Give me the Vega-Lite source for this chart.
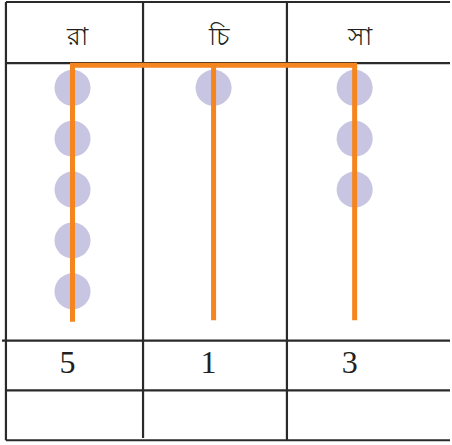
{
  "$schema": "https://vega.github.io/schema/vega-lite/v6.json",
  "width": 452,
  "height": 445,
  "autosize": {"type": "fit", "contains": "padding"},
  "padding": 0,
  "background": "white",
  "view": {"stroke": null},
  "config": {"axis": {"disable": true}},
  "datasets": {
    "tally": [
      {"name": "রা", "col": 1, "slot": 1},
      {"name": "রা", "col": 1, "slot": 2},
      {"name": "রা", "col": 1, "slot": 3},
      {"name": "রা", "col": 1, "slot": 4},
      {"name": "রা", "col": 1, "slot": 5},
      {"name": "চি", "col": 2, "slot": 1},
      {"name": "সা", "col": 3, "slot": 1},
      {"name": "সা", "col": 3, "slot": 2},
      {"name": "সা", "col": 3, "slot": 3}
    ],
    "totals": [
      {"name": "রা", "col": 1, "count": 5},
      {"name": "চি", "col": 2, "count": 1},
      {"name": "সা", "col": 3, "count": 3}
    ],
    "hlines": [
      {"row": -0.686, "from": 0.528, "to": 3.676},
      {"row": 0.516, "from": 0.528, "to": 3.676},
      {"row": 5.967, "from": 0.5, "to": 3.676},
      {"row": 6.947, "from": 0.528, "to": 3.676},
      {"row": 7.927, "from": 0.528, "to": 3.676}
    ],
    "vlines": [
      {"col": 0.528, "from": -0.686, "to": 7.927},
      {"col": 1.5, "from": -0.686, "to": 7.88},
      {"col": 2.52, "from": -0.686, "to": 7.927}
    ],
    "treeh": [
      {"from": 1, "to": 3, "row": 0.559}
    ],
    "treev": [
      {"col": 1, "from": 0.559, "to": 5.6},
      {"col": 2, "from": 0.559, "to": 5.57},
      {"col": 3, "from": 0.559, "to": 5.57}
    ]
  },
  "layer": [
    {
      "data": {"name": "hlines"},
      "mark": {"type": "rule", "color": "#2a2a2a", "strokeWidth": 2.2},
      "encoding": {
        "x": {"field": "from", "type": "quantitative", "scale": {"domain": [0.493, 3.676], "zero": false, "nice": false}},
        "x2": {"field": "to"},
        "y": {"field": "row", "type": "quantitative", "scale": {"domain": [-0.706, 8.02], "reverse": true, "zero": false, "nice": false}}
      }
    },
    {
      "data": {"name": "vlines"},
      "mark": {"type": "rule", "color": "#2a2a2a", "strokeWidth": 2.2},
      "encoding": {
        "x": {"field": "col", "type": "quantitative"},
        "y": {"field": "from", "type": "quantitative"},
        "y2": {"field": "to"}
      }
    },
    {
      "data": {"name": "tally"},
      "mark": {"type": "circle", "color": "#c7c5e1", "opacity": 1, "size": 1300},
      "encoding": {
        "x": {"field": "col", "type": "quantitative"},
        "y": {"field": "slot", "type": "quantitative"}
      }
    },
    {
      "data": {"name": "treeh"},
      "mark": {"type": "rule", "color": "#f5851f", "strokeWidth": 5, "strokeCap": "square"},
      "encoding": {
        "x": {"field": "from", "type": "quantitative"},
        "x2": {"field": "to"},
        "y": {"field": "row", "type": "quantitative"}
      }
    },
    {
      "data": {"name": "treev"},
      "mark": {"type": "rule", "color": "#f5851f", "strokeWidth": 5, "strokeCap": "butt"},
      "encoding": {
        "x": {"field": "col", "type": "quantitative"},
        "y": {"field": "from", "type": "quantitative"},
        "y2": {"field": "to"}
      }
    },
    {
      "data": {"name": "totals"},
      "mark": {"type": "text", "font": "Noto Sans", "fontSize": 25, "color": "#231f20", "baseline": "alphabetic", "align": "center", "dx": 5},
      "encoding": {
        "x": {"field": "col", "type": "quantitative"},
        "y": {"datum": 0.157, "type": "quantitative"},
        "text": {"field": "name"}
      }
    },
    {
      "data": {"name": "totals"},
      "mark": {"type": "text", "font": "Liberation Serif", "fontSize": 32, "color": "#231f20", "baseline": "alphabetic", "align": "center", "dx": -5},
      "encoding": {
        "x": {"field": "col", "type": "quantitative"},
        "y": {"datum": 6.608, "type": "quantitative"},
        "text": {"field": "count"}
      }
    }
  ]
}
